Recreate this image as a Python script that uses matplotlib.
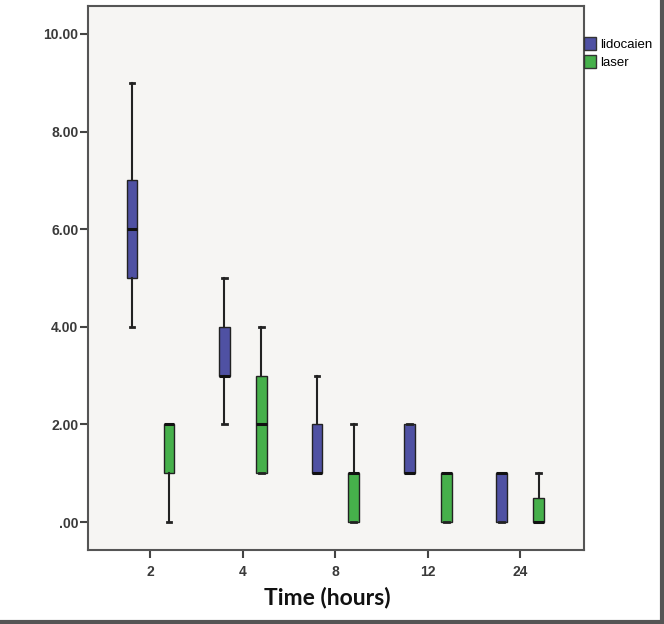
import matplotlib
matplotlib.use("Agg")
import matplotlib.pyplot as plt
from matplotlib.patches import Patch
from matplotlib.lines import Line2D
from matplotlib.ticker import FuncFormatter

times = ['2', '4', '8', '12', '24']
groups = ['lidocaien', 'laser']

lido_min = [4, 2, 1, 1, 0]
lido_q1 = [5, 3, 1, 1, 0]
lido_med = [6, 3, 1, 1, 1]
lido_q3 = [7, 4, 2, 2, 1]
lido_max = [9, 5, 3, 2, 1]

laser_min = [0, 1, 0, 0, 0]
laser_q1 = [1, 1, 0, 0, 0]
laser_med = [2, 2, 1, 1, 0]
laser_q3 = [2, 3, 1, 1, 0.5]
laser_max = [2, 4, 2, 1, 1]

colors = ['#4f51a3', '#46b04b']

fig = plt.figure(figsize=(6.64, 6.24), dpi=100)
fig.patch.set_facecolor('white')
ax = fig.add_axes([88/664, 1-550/624, (584-88)/664, (550-6)/624])
ax.set_facecolor('#f6f5f3')

def stats(mn, q1, md, q3, mx):
    return [dict(whislo=a, q1=b, med=c, q3=d, whishi=e, fliers=[])
            for a, b, c, d, e in zip(mn, q1, md, q3, mx)]

sets = [stats(lido_min, lido_q1, lido_med, lido_q3, lido_max),
        stats(laser_min, laser_q1, laser_med, laser_q3, laser_max)]
offsets = [-0.2, 0.2]
for st, off, col in zip(sets, offsets, colors):
    pos = [i + off for i in range(len(times))]
    ax.bxp(st, positions=pos, widths=0.115, patch_artist=True,
           showfliers=False, capwidths=0.05,
           boxprops=dict(facecolor=col, edgecolor='#222222', linewidth=1.0),
           medianprops=dict(color='#111111', linewidth=2.2),
           whiskerprops=dict(color='#222222', linewidth=1.5),
           capprops=dict(color='#222222', linewidth=2.0),
           zorder=3)

ax.set_xlim(-0.675, 4.69)
ax.set_ylim(-0.57, 10.57)
ax.set_xticks(range(len(times)))
ax.set_xticklabels(times)
ax.set_yticks([0, 2, 4, 6, 8, 10])
ax.yaxis.set_major_formatter(FuncFormatter(lambda v, p: ('%.2f' % v).lstrip('0') if v < 1 else '%.2f' % v))

for s in ax.spines.values():
    s.set_color('#555555')
    s.set_linewidth(1.5)
ax.tick_params(axis='both', direction='out', length=6, width=1.5, color='#444444',
               labelsize=10, labelcolor='#3a3a3a')
ax.tick_params(axis='x', pad=5)
ax.tick_params(axis='y', pad=1)
for lab in ax.get_xticklabels() + ax.get_yticklabels():
    lab.set_family('Liberation Sans')
    lab.set_fontweight('bold')

ax.set_xlabel('Time (hours)', fontsize=16.5, fontweight='bold', family='Lato', color='#111111')
ax.xaxis.set_label_coords((327-88)/496, -(597-550)/544)
ax.xaxis.label.set_verticalalignment('center')

handles = [Patch(facecolor=c, edgecolor='#333333', linewidth=1.0) for c in colors]
fig.legend(handles, groups, loc='upper left', bbox_to_anchor=(584/664, 1-37/624),
           frameon=False, handlelength=0.9, handleheight=1.1,
           handletextpad=0.3, labelspacing=0.35, borderpad=0, borderaxespad=0,
           prop={'family': 'Liberation Sans', 'size': 9.5})

fig.add_artist(Line2D([0, 1], [0.003, 0.003], transform=fig.transFigure, color='#555555', linewidth=3))
fig.add_artist(Line2D([0.997, 0.997], [0, 1], transform=fig.transFigure, color='#555555', linewidth=3))

fig.savefig('out.png', dpi=100, facecolor='white')
